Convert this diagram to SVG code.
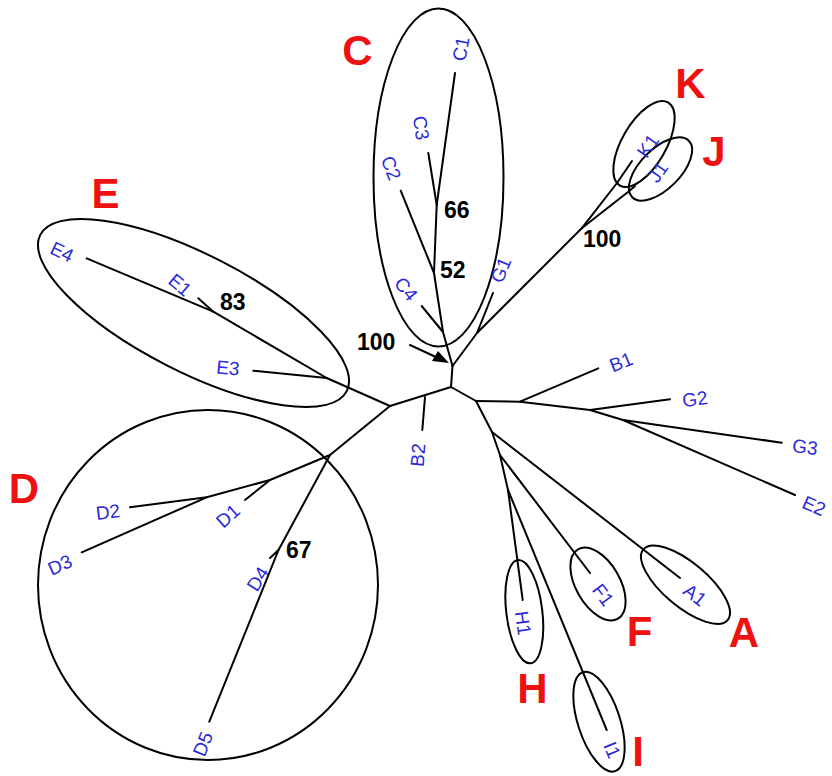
<svg xmlns="http://www.w3.org/2000/svg" width="832" height="776" viewBox="0 0 832 776">
<style>
.br{stroke:#000;stroke-width:2;fill:none;stroke-linecap:round;stroke-linejoin:round}
.cl{stroke:#000;stroke-width:2;fill:none}
.lf{font-family:"Liberation Sans",Arial,sans-serif;font-size:19px;fill:#2a2ad8;text-anchor:middle;dominant-baseline:central}
.bs{font-family:"Liberation Sans",Arial,sans-serif;font-size:23px;font-weight:bold;fill:#000}
.gp{font-family:"Liberation Sans",Arial,sans-serif;font-size:42px;font-weight:bold;fill:#ee1111;text-anchor:middle}
</style>
<rect width="832" height="776" fill="#fff"/>
<g id="connectors" class="br">
<path d="M451,387 L452.5,366"/>
<path d="M451,387 L390,406"/>
<path d="M451,387 L476,401"/>
<path d="M452.5,366 L443,332 L434,273 L436.7,205 L428.3,153"/>
<path d="M436.7,205 L455,73"/>
<path d="M443,332 L421.7,306"/>
<path d="M434,273 L400.7,190.7"/>
<path d="M452.5,366 L477,333 L581.7,228.3"/>
<path d="M477,333 L493,293"/>
<path d="M581.7,228.3 L617,183 L632,161"/>
<path d="M581.7,228.3 L628,192 L635,186"/>
<path d="M390,406 L326.7,378 L213.3,311.7 L86.7,258.3"/>
<path d="M213.3,311.7 L198.3,298.3"/>
<path d="M326.7,378 L253.3,370.7"/>
<path d="M425,397 L422.3,430"/>
<path d="M390,406 L330,455 L270,480 L206.7,497.3 L81.7,552.3"/>
<path d="M206.7,497.3 L130,507.3"/>
<path d="M270,480 L245,500"/>
<path d="M330,455 L278.5,550 L209.3,721.7"/>
<path d="M278.5,550 L270,558"/>
<path d="M476,401 L520,401.7 L590,410 L623,420 L795,495"/>
<path d="M520,401.7 L598.3,368.3"/>
<path d="M590,410 L670,399.3"/>
<path d="M623,420 L781.7,442.7"/>
<path d="M476,401 L492,432 L500,455 L508,490 L522.7,600"/>
<path d="M492,432 L680,578"/>
<path d="M500,455 L590,573"/>
<path d="M508,490 L606.7,730"/>
<path d="M410,345 L438,358"/>
<polygon points="449,363 432,361 438,351" fill="#000" stroke="none"/>
</g>
<g id="clade-C"><ellipse class="cl" cx="438.5" cy="177.5" rx="65" ry="169"/><text class="gp" x="357.5" y="65">C</text></g>
<g id="clade-E"><ellipse class="cl" cx="193.5" cy="313" rx="172" ry="58.7" transform="rotate(27 193.5 313)"/><text class="gp" x="105.5" y="208">E</text></g>
<g id="clade-D"><ellipse class="cl" cx="208" cy="585" rx="170" ry="175"/><text class="gp" x="24" y="503">D</text></g>
<g id="clade-K"><ellipse class="cl" cx="644" cy="144" rx="48" ry="22" transform="rotate(-60 644 144)"/><text class="gp" x="690.5" y="98">K</text></g>
<g id="clade-J"><ellipse class="cl" cx="660.5" cy="169" rx="40" ry="20" transform="rotate(-45 660.5 169)"/><text class="gp" x="714" y="166">J</text></g>
<g id="clade-F"><ellipse class="cl" cx="598" cy="584" rx="40" ry="22" transform="rotate(60 598 584)"/><text class="gp" x="639.5" y="646">F</text></g>
<g id="clade-A"><ellipse class="cl" cx="685.5" cy="584.7" rx="55" ry="22" transform="rotate(40 685.5 584.7)"/><text class="gp" x="744" y="647">A</text></g>
<g id="clade-H"><ellipse class="cl" cx="524.3" cy="611.7" rx="18" ry="52" transform="rotate(-7 524.3 611.7)"/><text class="gp" x="532.5" y="703">H</text></g>
<g id="clade-I"><ellipse class="cl" cx="599" cy="721.7" rx="21" ry="52" transform="rotate(-18 599 721.7)"/><text class="gp" x="638" y="766">I</text></g>
<g id="leaf-C1"><text class="lf" transform="translate(461,49) rotate(-80)">C1</text></g>
<g id="leaf-C3"><text class="lf" transform="translate(421,128) rotate(81)">C3</text></g>
<g id="leaf-C2"><text class="lf" transform="translate(391,168) rotate(68)">C2</text></g>
<g id="leaf-C4"><text class="lf" transform="translate(406,289) rotate(51)">C4</text></g>
<g id="leaf-G1"><text class="lf" transform="translate(501,270) rotate(-68)">G1</text></g>
<g id="leaf-K1"><text class="lf" transform="translate(648,146) rotate(-55)">K1</text></g>
<g id="leaf-J1"><text class="lf" transform="translate(658,172) rotate(-55)">J1</text></g>
<g id="leaf-B1"><text class="lf" transform="translate(621,362) rotate(-22)">B1</text></g>
<g id="leaf-G2"><text class="lf" transform="translate(695,399) rotate(-8)">G2</text></g>
<g id="leaf-G3"><text class="lf" transform="translate(805,447) rotate(8)">G3</text></g>
<g id="leaf-E2"><text class="lf" transform="translate(814,506) rotate(24)">E2</text></g>
<g id="leaf-B2"><text class="lf" transform="translate(418,455) rotate(-85)">B2</text></g>
<g id="leaf-E4"><text class="lf" transform="translate(62,252) rotate(26)">E4</text></g>
<g id="leaf-E1"><text class="lf" transform="translate(180,285) rotate(40)">E1</text></g>
<g id="leaf-E3"><text class="lf" transform="translate(228,368) rotate(6)">E3</text></g>
<g id="leaf-D2"><text class="lf" transform="translate(108,512) rotate(-7)">D2</text></g>
<g id="leaf-D3"><text class="lf" transform="translate(60,565) rotate(-24)">D3</text></g>
<g id="leaf-D1"><text class="lf" transform="translate(228,516) rotate(-42)">D1</text></g>
<g id="leaf-D4"><text class="lf" transform="translate(258,579) rotate(-58)">D4</text></g>
<g id="leaf-D5"><text class="lf" transform="translate(203,744) rotate(-68)">D5</text></g>
<g id="leaf-H1"><text class="lf" transform="translate(523,623) rotate(82)">H1</text></g>
<g id="leaf-I1"><text class="lf" transform="translate(612,750) rotate(67)">I1</text></g>
<g id="leaf-F1"><text class="lf" transform="translate(603,595) rotate(53)">F1</text></g>
<g id="leaf-A1"><text class="lf" transform="translate(695,595) rotate(38)">A1</text></g>
<g id="support">
<text class="bs" x="444" y="218">66</text>
<text class="bs" x="440" y="278">52</text>
<text class="bs" x="357" y="350">100</text>
<text class="bs" x="220" y="310">83</text>
<text class="bs" x="583" y="247">100</text>
<text class="bs" x="286" y="558">67</text>
</g>
</svg>
